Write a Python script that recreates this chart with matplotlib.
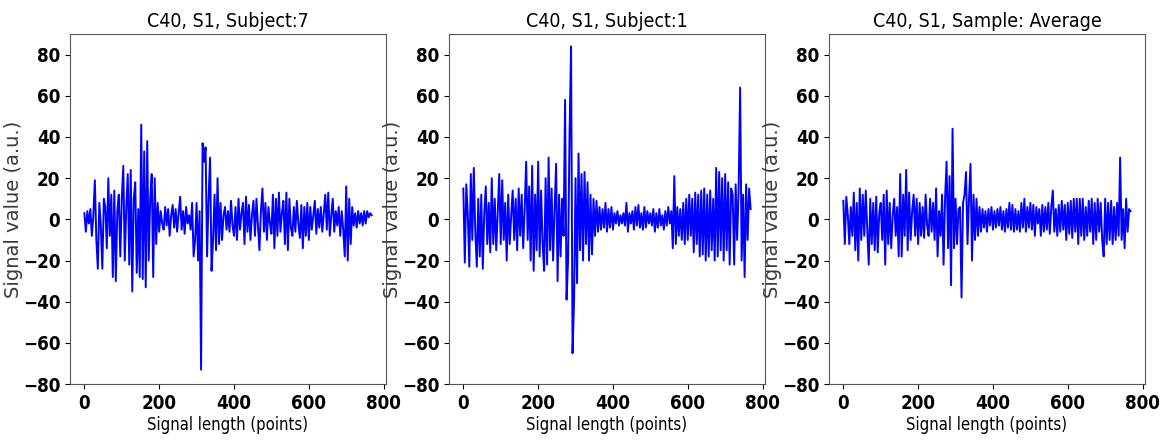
import numpy as np
import matplotlib
matplotlib.use("Agg")
import matplotlib.pyplot as plt

# signal samples, one value every 4 points
step = 4

subject7 = [3, -6, 4, -2, 5, -8, 2, 19, -10, -24,
            8, -3, -24, 10, 6, -14, 20, -8, 12, -28,
            14, -30, 4, 12, -18, 10, 26, -20, 6, 22,
            -22, 24, -35, 10, 18, -26, 5, -28, 46, -29,
            33, -33, 38, -20, 10, 22, -28, 20, -12, 8,
            -6, 4, -2, -5, 6, -3, 5, -8, 2, 7,
            -4, 5, -6, 3, 11, -5, 4, -7, 6, -2,
            2, -5, 8, -18, -10, 8, -20, 4, -73, 37,
            28, 35, -18, 10, 30, -25, -10, 12, -15, 20,
            -12, 8, -10, 2, 6, -5, 4, -6, 9, -3,
            -8, 6, -10, 10, -5, 3, 8, -12, 11, -6,
            7, -10, 2, 9, -8, 10, -3, -15, 4, 15,
            -6, 8, -10, 6, -2, -7, 12, -14, 10, -8,
            13, -6, 3, 9, -12, 13, -15, 10, -4, -8,
            6, -6, 9, -2, -9, 7, -14, 6, -8, 8,
            -10, 6, -5, 2, 9, -7, 5, -4, 6, -6,
            3, 12, -5, 13, -8, 2, 10, -6, 4, -3,
            6, -8, 4, -5, -18, 16, -20, 10, -12, 6,
            -3, 3, -4, 4, -2, 3, -3, 4, -2, 4,
            1, 3, 2]

subject1 = [15, -21, 17, 2, -23, 22, -10, 25, -6, -23,
            10, -18, 12, -24, 3, 16, -12, 8, -16, 20,
            -12, 10, -15, 4, 22, -12, 19, -10, 8, -20,
            12, -12, 2, 14, -10, 10, -15, 15, -8, 12,
            -14, 5, 28, -10, 16, -20, 26, -25, 12, -15,
            28, -18, 14, -12, -25, 20, -22, 30, -15, 15,
            -20, 5, 27, -30, 12, -18, 10, -8, 58, -39,
            -20, 42, 84, -65, -40, 20, -31, 32, -15, 22,
            -20, 23, -12, 18, -20, 12, -17, 10, -8, 9,
            -6, 6, -5, 5, -4, 8, -6, 5, -4, 6,
            -5, 3, -2, 4, -3, 2, -2, 3, -3, 8,
            -6, 3, -2, 4, -5, 6, -3, 7, -4, 3,
            -5, 6, -4, 4, -2, 3, -3, 5, -6, 3,
            -4, 5, -3, 2, -5, 4, -3, 6, -2, 4,
            -14, 21, -12, 6, -8, 5, -10, 8, -12, 10,
            -10, 12, -8, 10, -16, 13, -12, 12, -18, 14,
            -17, 15, -20, 12, -18, 14, -15, 10, -20, 25,
            -18, 23, -15, 20, -20, 22, -15, 18, -22, 15,
            12, -22, 17, -10, 15, 64, -20, 12, -28, 17,
            -10, 15, 5]

average = [9, -12, 11, 2, -12, 6, -8, 13, -15, 8,
           -20, 15, -10, 12, -8, 14, -5, -22, 10, -12,
           8, -15, 11, -16, 3, 8, -10, 12, -22, 14,
           -12, 8, -14, 2, 10, -8, 6, -18, 22, -18,
           12, -8, 24, -15, 13, -10, 4, 12, -8, 10,
           -12, 8, -8, 6, -9, 12, -3, -8, 10, -6,
           8, -10, 15, -18, 4, -8, 12, -22, 10, 28,
           -14, 21, -32, 44, -14, 10, -12, 5, 6, -38,
           8, 12, 23, -12, 10, 27, -20, 12, -10, 10,
           -8, 6, -6, 5, -4, 4, -6, 5, -3, 6,
           -5, 4, -4, 5, -3, 6, -5, 4, -6, 5,
           -4, 8, -5, 7, -6, 5, -5, 4, -6, 8,
           -4, 10, -6, 6, -4, 8, -5, 7, -8, 6,
           -2, 5, -8, 7, -6, 6, -5, 8, -7, 6,
           14, -6, 5, -8, 7, -6, 9, -5, 7, -10,
           8, -7, 9, -9, 10, -6, 10, -12, 10, -8,
           10, -10, 6, -8, 9, -6, 10, -12, 8, -10,
           10, -6, 8, -10, -18, 10, -12, 8, -10, 9,
           -12, 6, -10, 8, -8, 30, -10, 5, -14, 10,
           -6, 5, 4]

titles = ["C40, S1, Subject:7", "C40, S1, Subject:1", "C40, S1, Sample: Average"]
signals = [subject7, subject1, average]
yticks = [-80, -60, -40, -20, 0, 20, 40, 60, 80]
xticks = [0, 200, 400, 600, 800]

fig = plt.figure(figsize=(11.61, 4.42), dpi=100)
lefts = [0.0603, 0.3867, 0.714]
for left, sig, title in zip(lefts, signals, titles):
    ax = fig.add_axes([left, 0.131, 0.2722, 0.792])
    x = np.arange(len(sig)) * step
    ax.plot(x, sig, color='blue', linewidth=1.4)
    ax.set_ylim(-80, 90)
    ax.set_yticks(yticks)
    ax.set_xticks(xticks)
    ax.set_title(title, fontsize=14, family='DejaVu Sans', stretch='condensed', pad=5)
    ax.set_xlabel("Signal length (points)", fontsize=12, family='DejaVu Sans',
                  stretch='condensed', labelpad=2)
    ax.set_ylabel("Signal value (a.u.)", fontsize=14, color='#3a3a3a', labelpad=0)
    for lab in ax.get_xticklabels() + ax.get_yticklabels():
        lab.set_family('DejaVu Sans')
        lab.set_stretch('condensed')
        lab.set_fontweight('bold')
        lab.set_fontsize(13.5)
    for sp in ax.spines.values():
        sp.set_color('#555555')

fig.savefig("out.png", dpi=100)
